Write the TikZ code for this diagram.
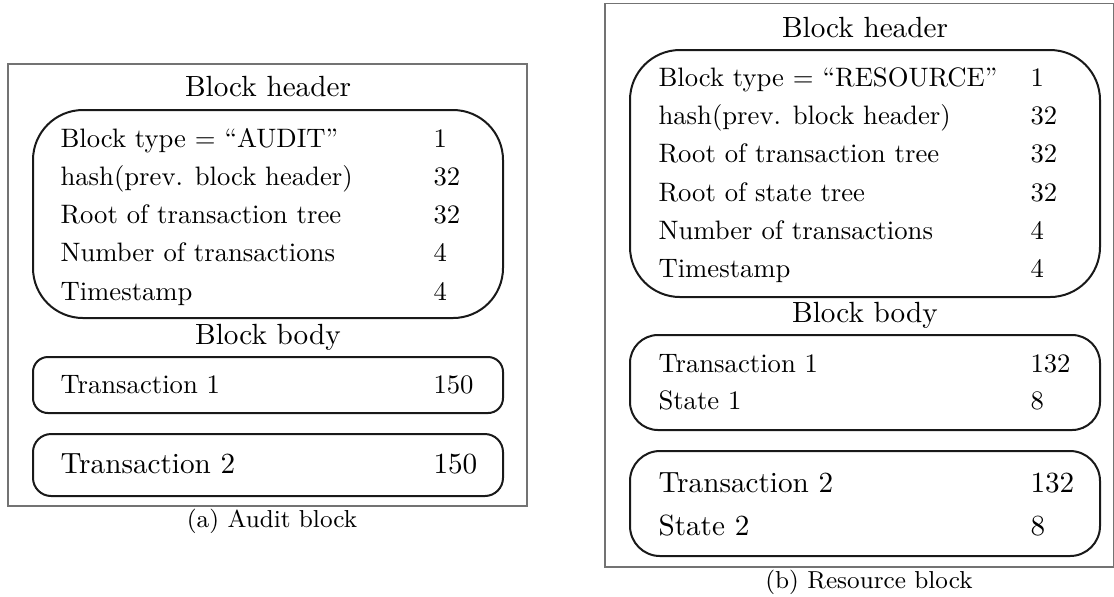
\documentclass[tikz,border=0pt]{standalone}
\usepackage{fontspec}
\begin{document}
\begin{tikzpicture}[x=0.375pt, y=-0.375pt,
  frame/.style={draw=black!55, line width=0.4pt},
  hdrbox/.style={draw=black!90, line width=0.75pt, rounded corners=18.75pt},
  bodybox/.style={draw=black!90, line width=0.75pt},
  title/.style={anchor=base, inner sep=0pt, font=\fontsize{10.95}{13}\selectfont},
  row/.style={anchor=base west, inner sep=0pt, font=\fontsize{10}{12}\selectfont},
  bigrow/.style={anchor=base west, inner sep=0pt, font=\fontsize{10.95}{13}\selectfont},
  captext/.style={anchor=base, inner sep=0pt, font=\fontsize{9.2}{11}\selectfont}]
\useasboundingbox (0,0) rectangle (1114,596);

% ---------- (a) Audit block ----------
\draw[frame] (8,64) rectangle (527,506);
\node[title] (aHdr) at (268,96) {Block header};
\draw[hdrbox] (33,110) rectangle (503,318);
\foreach \txt/\num [count=\i from 0] in {%
    Block type = ``AUDIT''/1,
    hash(prev. block header)/32,
    Root of transaction tree/32,
    Number of transactions/4,
    Timestamp/4}{
  \node[row] (aF\i) at (60,147+38.25*\i) {\txt};
  \node[row] (aS\i) at (433,147+38.25*\i) {\num};
}
\node[title] (aBody) at (268,344) {Block body};
\draw[bodybox, rounded corners=5.6pt] (33,357) rectangle (503,413);
\node[row] (aT1) at (60,393) {Transaction 1};
\node[row] (aT1s) at (433,393) {150};
\draw[bodybox, rounded corners=6.8pt] (33,434) rectangle (503,496);
\node[bigrow] (aT2) at (60,473) {Transaction 2};
\node[bigrow] (aT2s) at (433,473) {150};
\node[captext] (aCap) at (272,527) {(a) Audit block};

% ---------- (b) Resource block ----------
\draw[frame] (605,3.5) rectangle (1113.6,567);
\node[title] (bHdr) at (865,37) {Block header};
\draw[hdrbox] (630,50) rectangle (1100,297);
\foreach \txt/\num [count=\i from 0] in {%
    Block type = ``RESOURCE''/1,
    hash(prev. block header)/32,
    Root of transaction tree/32,
    Root of state tree/32,
    Number of transactions/4,
    Timestamp/4}{
  \node[row] (bF\i) at (658,86.5+38.2*\i) {\txt};
  \node[row] (bS\i) at (1030,86.5+38.2*\i) {\num};
}
\node[title] (bBody) at (865,322) {Block body};
\draw[bodybox, rounded corners=10.5pt] (630,335) rectangle (1100,430);
\node[row] (bT1) at (658,372) {Transaction 1};
\node[row] (bT1s) at (1030,372) {132};
\node[row] (bS1) at (658,409) {State 1};
\node[row] (bS1s) at (1030,409) {8};
\draw[bodybox, rounded corners=11.25pt] (630,451) rectangle (1100,556);
\node[bigrow] (bT2) at (658,492) {Transaction 2};
\node[bigrow] (bT2s) at (1030,492) {132};
\node[bigrow] (bS2) at (658,535) {State 2};
\node[bigrow] (bS2s) at (1030,535) {8};
\node[captext] (bCap) at (869,588) {(b) Resource block};
\end{tikzpicture}
\end{document}
